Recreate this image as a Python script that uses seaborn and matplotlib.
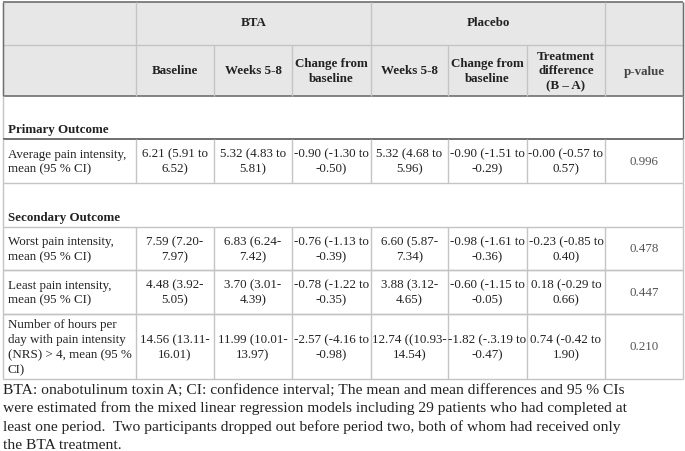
import matplotlib
matplotlib.use("Agg")
import matplotlib.pyplot as plt
import seaborn as sns
from matplotlib.patches import Rectangle

sns.set_theme(style="white")
plt.rcParams['font.family'] = ['Liberation Serif', 'DejaVu Serif']

# ---- data ----
group_headers = ["BTA", "Placebo"]
col_headers = ["Baseline", "Weeks 5-8", "Change from\nbaseline", "Weeks 5-8",
               "Change from\nbaseline", "Treatment\ndifference\n(B \u2013 A)", "p-value"]
section_primary = "Primary Outcome"
section_secondary = "Secondary Outcome"
row_labels = [
    "Average pain intensity,\nmean (95 % CI)",
    "Worst pain intensity,\nmean (95 % CI)",
    "Least pain intensity,\nmean (95 % CI)",
    "Number of hours per\nday with pain intensity\n(NRS) > 4, mean (95 %\nCI)",
]
baseline = ["6.21 (5.91 to\n6.52)", "7.59 (7.20-\n7.97)", "4.48 (3.92-\n5.05)", "14.56 (13.11-\n16.01)"]
bta_weeks = ["5.32 (4.83 to\n5.81)", "6.83 (6.24-\n7.42)", "3.70 (3.01-\n4.39)", "11.99 (10.01-\n13.97)"]
bta_change = ["-0.90 (-1.30 to\n-0.50)", "-0.76 (-1.13 to\n-0.39)", "-0.78 (-1.22 to\n-0.35)", "-2.57 (-4.16 to\n-0.98)"]
pla_weeks = ["5.32 (4.68 to\n5.96)", "6.60 (5.87-\n7.34)", "3.88 (3.12-\n4.65)", "12.74 ((10.93-\n14.54)"]
pla_change = ["-0.90 (-1.51 to\n-0.29)", "-0.98 (-1.61 to\n-0.36)", "-0.60 (-1.15 to\n-0.05)", "-1.82 (-.3.19 to\n-0.47)"]
treat_diff = ["-0.00 (-0.57 to\n0.57)", "-0.23 (-0.85 to\n0.40)", "0.18 (-0.29 to\n0.66)", "0.74 (-0.42 to\n1.90)"]
p_values = ["0.996", "0.478", "0.447", "0.210"]
footnote = ["BTA: onabotulinum toxin A; CI: confidence interval; The mean and mean differences and 95 % CIs",
            "were estimated from the mixed linear regression models including 29 patients who had completed at",
            "least one period.  Two participants dropped out before period two, both of whom had received only",
            "the BTA treatment."]

# ---- layout (pixel units) ----
W, H = 685, 451
xs = [3, 136, 214, 292, 371, 448, 527, 605, 683]
y_top, y_h1, y_h2 = 2, 45, 96
y_prim_txt, y_prim_line = 130, 139
data_rows = [(139, 183), (227, 270), (270, 314), (314, 379)]
y_sec_txt = 218
hdr_fill = "#e7e7e7"
c_dark = "#6e6e6e"
c_light = "#c4c4c4"
fs = 9.4
ls = 1.32

fig = plt.figure(figsize=(W / 100, H / 100), dpi=100)
ax = fig.add_axes([0, 0, 1, 1])
ax.set_xlim(0, W)
ax.set_ylim(H, 0)
ax.axis("off")

# header fill
ax.add_patch(Rectangle((xs[0], y_top), xs[-1] - xs[0], y_h2 - y_top, facecolor=hdr_fill, edgecolor="none"))

def hline(y, x0, x1, c, lw=1.0):
    ax.plot([x0, x1], [y, y], color=c, lw=lw, solid_capstyle="butt")

def vline(x, y0, y1, c, lw=1.0):
    ax.plot([x, x], [y0, y1], color=c, lw=lw, solid_capstyle="butt")

# header lines
hline(y_top, xs[0], xs[-1], c_dark, 1.2)
hline(y_h1, xs[0], xs[-1], c_light)
hline(y_h2, xs[0], xs[-1], c_dark, 1.2)
for x in [xs[0], xs[1], xs[4], xs[7], xs[8]]:
    vline(x, y_top, y_h1, c_light)
for x in xs:
    vline(x, y_h1, y_h2, c_light)
vline(xs[0], y_top, y_h2, c_dark)
vline(xs[-1], y_top, y_h2, c_dark)

# group headers
ax.text((xs[1] + xs[4]) / 2, (y_top + y_h1) / 2, group_headers[0], ha="center", va="center",
        fontsize=fs, fontweight="bold", color="#222222")
ax.text((xs[4] + xs[7]) / 2, (y_top + y_h1) / 2, group_headers[1], ha="center", va="center",
        fontsize=fs, fontweight="bold", color="#222222")
for i, h in enumerate(col_headers):
    ax.text((xs[i + 1] + xs[i + 2]) / 2, (y_h1 + y_h2) / 2 + 1, h, ha="center", va="center",
            fontsize=fs, fontweight="bold", color="#444444" if i == 6 else "#222222",
            linespacing=ls)

# section blocks
vline(xs[0], y_h2, data_rows[0][0], c_light)
vline(xs[-1], y_h2, data_rows[0][0], c_dark)
ax.text(xs[0] + 5, y_prim_txt, section_primary, ha="left", va="center", fontsize=fs,
        fontweight="bold", color="#222222")
hline(y_prim_line, xs[0], xs[-1], c_dark, 1.2)
vline(xs[0], data_rows[0][1], data_rows[1][0], c_light)
vline(xs[-1], data_rows[0][1], data_rows[1][0], c_light)
ax.text(xs[0] + 5, y_sec_txt, section_secondary, ha="left", va="center", fontsize=fs,
        fontweight="bold", color="#222222")

columns = [baseline, bta_weeks, bta_change, pla_weeks, pla_change, treat_diff, p_values]
for r, (y0, y1) in enumerate(data_rows):
    hline(y0, xs[0], xs[-1], c_dark if r == 0 else c_light, 1.2 if r == 0 else 1.0)
    hline(y1, xs[0], xs[-1], c_light)
    for x in xs:
        vline(x, y0, y1, c_light)
    yc = (y0 + y1) / 2 + 1
    ax.text(xs[0] + 5, yc, row_labels[r], ha="left", va="center", fontsize=fs,
            color="#222222", linespacing=ls)
    for c, col in enumerate(columns):
        ax.text((xs[c + 1] + xs[c + 2]) / 2, yc, col[r], ha="center", va="center",
                fontsize=fs, color="#555555" if c == 6 else "#222222", linespacing=ls)

for i, line in enumerate(footnote):
    ax.text(3, 390 + 18.4 * i, line, ha="left", va="center", fontsize=11.15, color="#222222")

fig.savefig("out.png", dpi=100)
